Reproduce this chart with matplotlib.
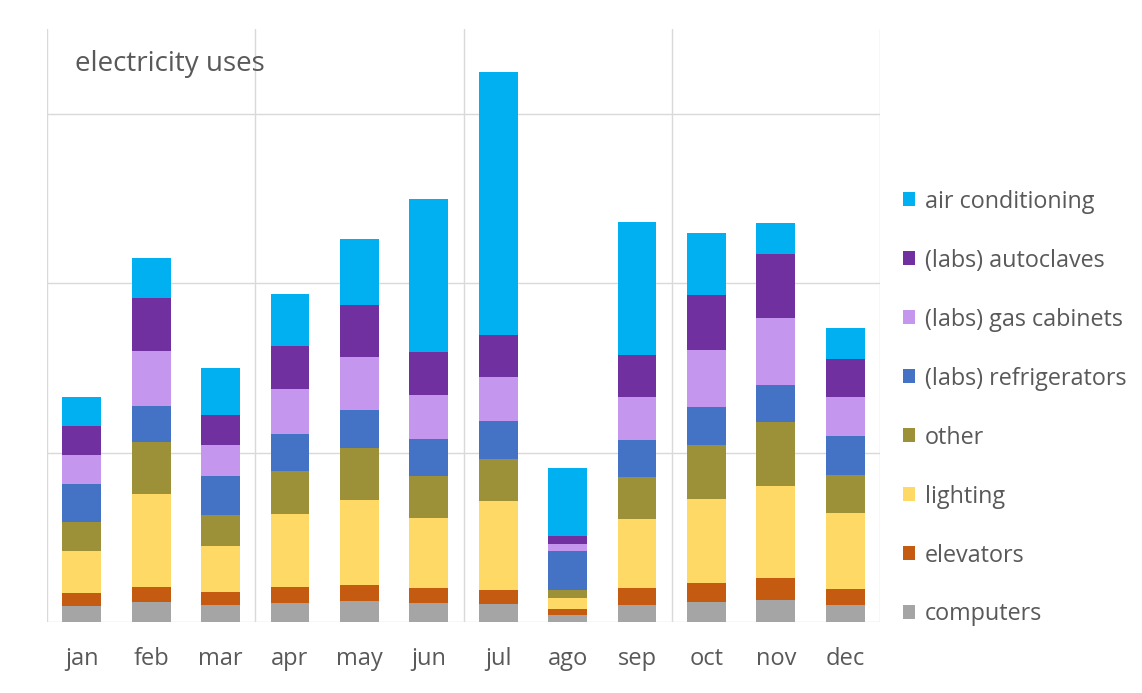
import numpy as np
import matplotlib.pyplot as plt
from matplotlib.patches import Patch

plt.rcParams['font.family'] = ['Open Sans', 'DejaVu Sans']

months = ["jan", "feb", "mar", "apr", "may", "jun",
          "jul", "ago", "sep", "oct", "nov", "dec"]

# stacked from bottom to top
computers = [9.4, 11.8, 10.0, 11.2, 12.4, 11.2, 10.6, 4.1, 10.0, 11.8, 13.0, 10.0]
elevators = [7.7, 8.9, 7.7, 9.4, 9.4, 8.9, 8.3, 3.5, 10.0, 11.2, 13.0, 9.4]
lighting = [24.8, 54.9, 27.1, 43.1, 50.1, 41.3, 52.5, 6.5, 40.7, 49.6, 54.3, 44.8]
other = [17.1, 30.7, 18.3, 25.4, 30.7, 24.8, 24.8, 4.7, 24.8, 31.9, 37.8, 22.4]
refrigerators = [22.4, 21.2, 23.0, 21.8, 22.4, 21.8, 22.4, 23.0, 21.8, 22.4, 21.8, 23.0]
gas_cabinets = [17.1, 32.4, 18.3, 26.5, 31.3, 26.0, 26.0, 4.1, 25.4, 33.6, 39.5, 23.0]
autoclaves = [17.1, 31.3, 17.7, 25.4, 30.7, 25.4, 24.8, 4.7, 24.8, 32.4, 37.8, 22.4]
air_conditioning = [17.1, 23.6, 27.7, 30.7, 38.9, 90.3, 155.2, 40.1, 78.5, 36.6, 18.3, 18.3]

series = [
    ("computers", computers, "#A5A5A5"),
    ("elevators", elevators, "#C55A11"),
    ("lighting", lighting, "#FFD966"),
    ("other", other, "#9C9139"),
    ("(labs) refrigerators", refrigerators, "#4472C4"),
    ("(labs) gas cabinets", gas_cabinets, "#C496EE"),
    ("(labs) autoclaves", autoclaves, "#7030A0"),
    ("air conditioning", air_conditioning, "#00B0F0"),
]

TXT = "#595959"
GRID = "#D9D9D9"

fig = plt.figure(figsize=(11.42, 6.93), dpi=100)
ax = fig.add_axes([47 / 1142, 71 / 693, 833 / 1142, 593 / 693])

x = np.arange(len(months))
bottom = np.zeros(len(months))
for name, vals, col in series:
    ax.bar(x, vals, 0.56, bottom=bottom, color=col, zorder=3)
    bottom += np.array(vals)

ax.set_xlim(-0.5, 11.5)
ax.set_ylim(0, 350)
for yv in [0, 100, 200, 300]:
    ax.axhline(yv, color=GRID, lw=1, zorder=1)
for xv in [-0.5, 2.5, 5.5, 8.5, 11.5]:
    ax.axvline(xv, color=GRID, lw=1, zorder=1)

for s in ax.spines.values():
    s.set_visible(False)
ax.set_yticks([])
ax.set_xticks(x)
ax.set_xticklabels(months, fontsize=17, color=TXT)
ax.tick_params(axis='x', length=0, pad=18)

ax.text(0.034, 0.941, "electricity uses", transform=ax.transAxes,
        fontsize=20, color=TXT, va='center', ha='left')

handles = [Patch(facecolor=c, label=n) for n, v, c in reversed(series)]
leg = fig.legend(handles=handles, loc='center left',
                 bbox_to_anchor=(903 / 1142, 1 - 408 / 693),
                 frameon=False, fontsize=16.8, labelcolor=TXT,
                 borderpad=0, borderaxespad=0,
                 handlelength=0.51, handleheight=0.51, handletextpad=0.42,
                 labelspacing=1.5)

fig.savefig("out.png", dpi=100)
